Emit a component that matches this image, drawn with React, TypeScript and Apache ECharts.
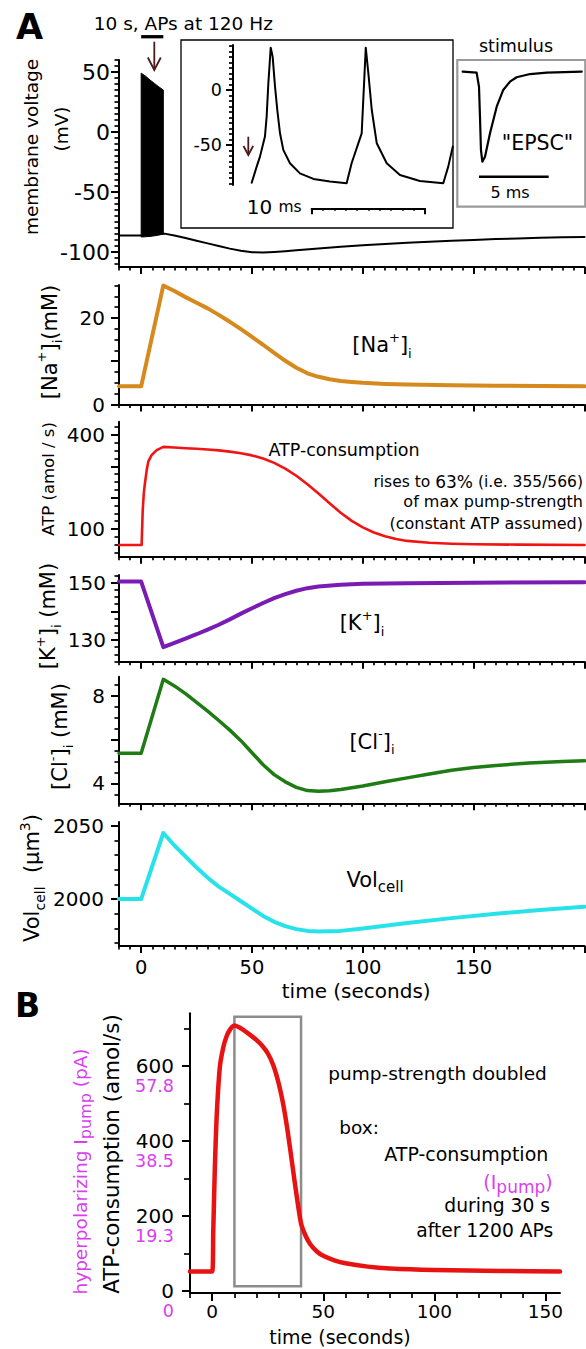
import React, { useEffect, useRef } from 'react';
import * as echarts from 'echarts';

const FONT = "'DejaVu Sans', 'Liberation Sans', Arial, sans-serif";
const MAGENTA = '#d93fef';

// ---------- Panel A: shared time axis (s) ----------
const timeTickLabels = [0, 50, 100, 150];

// membrane voltage (mV)
const vmTime = [-10, 0, 10.5, 15, 20, 25, 30, 35, 40, 45, 50, 55, 60, 65, 70, 80, 90, 100, 110, 120, 130, 140, 150, 160, 170, 180, 190, 200];
const vmValue = [-86.3, -86.3, -84.7, -86.3, -88.4, -90.6, -92.8, -95, -97.2, -99, -100.2, -100.5, -100, -99.3, -98.5, -97, -95.6, -94.4, -93.3, -92.3, -91.4, -90.6, -89.9, -89.2, -88.7, -88.2, -87.8, -87.4];
// AP burst envelope (10 s at 120 Hz)
const burstTime = [0, 2, 4, 6, 8, 10];
const burstTop = [49, 46.5, 43.3, 40.5, 37.6, 35];
const burstBottom = [-87.5, -87.3, -87, -86.5, -85.8, -85];
const stimWindow = [0, 10];
const vmTickLabels = [-100, -50, 0, 50];

// [Na+]i (mM)
const naTime = [-10, 0, 10, 15, 20, 25, 30, 35, 40, 45, 50, 55, 60, 65, 70, 75, 80, 85, 90, 95, 100, 110, 120, 140, 160, 180, 200];
const naValue = [4.2, 4.2, 27.5, 26.2, 24.8, 23.5, 22.2, 20.7, 19.1, 17.4, 15.6, 13.8, 11.9, 10.1, 8.5, 7.2, 6.4, 5.85, 5.45, 5.2, 5.0, 4.75, 4.6, 4.45, 4.35, 4.25, 4.2];
const naTickLabels = [0, 20];

// ATP consumption (amol/s)
const atpTime = [-10, 0.2, 0.7, 1.2, 1.7, 2.5, 3.2, 4.7, 7, 10, 15, 20, 25, 30, 35, 40, 45, 50, 55, 60, 65, 70, 75, 80, 85, 90, 95, 100, 105, 110, 115, 120, 130, 140, 150, 170, 200];
const atpValue = [49, 49, 160, 215, 246, 288, 315, 336, 352, 362, 360, 358, 356, 354, 351, 347, 342, 335, 325, 311, 293, 270, 243, 213, 182, 152, 126, 105, 89, 77, 68, 62, 56, 53, 51.5, 50, 49];
const atpTickLabels = [100, 400];

// [K+]i (mM)
const kTime = [-10, 0, 10, 15, 20, 25, 30, 35, 40, 45, 50, 55, 60, 65, 70, 75, 80, 90, 100, 120, 150, 200];
const kValue = [150.4, 150.4, 127.5, 129, 130.5, 132, 133.6, 135.3, 137.2, 139.2, 141.1, 142.9, 144.6, 146, 147.2, 148.1, 148.7, 149.3, 149.6, 149.8, 150, 150.2];
const kTickLabels = [130, 150];

// [Cl-]i (mM)
const clTime = [-10, 0, 10, 15, 20, 25, 30, 35, 40, 45, 50, 55, 60, 65, 70, 75, 80, 85, 90, 100, 110, 120, 130, 140, 150, 160, 175, 190, 200];
const clValue = [5.37, 5.37, 8.75, 8.45, 8.1, 7.7, 7.3, 6.87, 6.43, 5.95, 5.4, 4.85, 4.4, 4.07, 3.82, 3.67, 3.64, 3.66, 3.72, 3.88, 4.07, 4.25, 4.43, 4.6, 4.72, 4.82, 4.93, 5.0, 5.03];
const clTickLabels = [4, 8];

// Vol cell (um^3)
const volTime = [-10, 0, 10, 15, 20, 25, 30, 35, 40, 45, 50, 55, 60, 65, 70, 75, 80, 90, 100, 110, 120, 140, 160, 180, 200];
const volValue = [2000, 2000, 2045, 2036.5, 2029, 2021.5, 2014.5, 2008.5, 2003.5, 1998.5, 1993.5, 1988.5, 1984.5, 1981.5, 1979.5, 1978.3, 1977.8, 1978.3, 1980, 1981.8, 1983.6, 1987, 1990, 1992.6, 1994.8];
const volTickLabels = [2000, 2050];

// inset: two APs (ms, mV)
const apTime = [1.65, 2.09, 2.38, 2.82, 2.97, 3.12, 3.33, 3.5, 3.71, 3.91, 4.15, 4.44, 5.03, 5.91, 7.1, 8.56, 10.03, 10.47, 11.06, 11.36, 11.5, 11.72, 11.95, 12.25, 12.69, 13.57, 14.74, 16.5, 18.56, 19.0, 19.4];
const apValue = [-84.3, -69.7, -60.6, -42.4, -24.2, 6, 38.5, 30.3, 3, -18.2, -39.4, -54.5, -66.6, -75.8, -80.9, -83.3, -84.8, -66.6, -48.5, -39.4, -9, 38.5, 15, -18.2, -48.5, -66.6, -77.3, -82.7, -84.8, -69.7, -51.5];
const apTickLabels = [-50, 0];
const apScaleBarMs = 10;

// stimulus "EPSC" (ms, normalized current)
const epscTime = [0, 1.0, 1.17, 1.24, 1.31, 1.41, 1.6, 1.96, 2.44, 2.91, 3.39, 3.87, 4.83, 6.03, 8.54];
const epscValue = [0, -0.011, -0.167, -0.5, -0.87, -1, -0.944, -0.684, -0.389, -0.203, -0.111, -0.062, -0.026, -0.011, 0];
const epscScaleBar = [1.17, 6.17];
const epscScaleBarLevel = -1.167;

// ---------- Panel B ----------
const bTime = [-10, 0, 0.45, 1.2, 2, 3.45, 5, 6.4, 8, 10, 12.5, 15.2, 17.5, 20, 22.5, 25, 27.5, 30, 32, 34, 36, 38, 40, 42, 44, 47, 50, 55, 60, 70, 80, 100, 130, 156.6];
const bValue = [52, 52, 154, 331, 465, 598, 650, 678, 697, 708, 702, 691, 681, 669, 654, 634, 602, 552, 497, 425, 340, 255, 180, 148, 126, 106, 94, 82, 74, 65, 60, 56, 53.5, 52];
const bTickLabels = [0, 200, 400, 600];
const bPumpLabels = ['0', '19.3', '38.5', '57.8'];
const boxWindow = [10, 40];
const boxRange = [13, 731];

const zip = (t: number[], v: number[]) => t.map((x, i) => [x, v[i]]);
const steps = (a: number, b: number, s: number) => {
  const out: number[] = [];
  for (let v = a; v <= b + 1e-9; v += s) out.push(Math.round(v * 1000) / 1000);
  return out;
};

function makeAxes(o: any): any[] {
  const base = {
    type: 'value', gridIndex: o.grid, min: o.min, max: o.max, position: o.pos,
    splitLine: { show: false }, splitArea: { show: false },
    minorTick: { show: false }, minorSplitLine: { show: false },
    silent: true, axisPointer: { show: false }, z: 3,
  };
  const label: any = o.labels
    ? {
        show: true, customValues: o.labels, fontSize: o.fontSize ?? 20, fontFamily: FONT, color: o.color ?? '#000',
        margin: o.margin ?? 12, formatter: o.formatter ?? ((v: number) => String(v)),
      }
    : { show: false };
  if (o.labelVAlign) label.verticalAlign = o.labelVAlign;
  if (o.labelLineHeight) label.lineHeight = o.labelLineHeight;
  const main = {
    ...base,
    axisLine: { show: o.showLine !== false, onZero: false, lineStyle: { color: '#000', width: o.lineWidth ?? 2 } },
    axisTick: o.major
      ? { show: true, customValues: o.major, length: o.majorLen ?? 8, inside: false, lineStyle: { color: '#000', width: 2 } }
      : { show: false },
    axisLabel: label,
  };
  const out = [main];
  if (o.minor) {
    out.push({
      ...base,
      axisLine: { show: false, onZero: false },
      axisTick: { show: true, customValues: o.minor, length: o.minorLen ?? 4.5, inside: false, lineStyle: { color: '#000', width: 1.7 } },
      axisLabel: { show: false },
    });
  }
  return out;
}

function rich(size: number, small: number, fill = '#000') {
  const lh = Math.round(size * 1.4);
  return {
    m: { fontSize: size, fontFamily: FONT, fill, lineHeight: lh, verticalAlign: 'middle' },
    sup: { fontSize: small, fontFamily: FONT, fill, lineHeight: small, verticalAlign: 'top' },
    sub: { fontSize: small, fontFamily: FONT, fill, lineHeight: small, verticalAlign: 'bottom' },
  };
}

function T(x: number, y: number, text: string, size: number, o: any = {}) {
  const style: any = {
    text, fontSize: size, fontFamily: FONT, fontWeight: o.weight ?? 'normal',
    fill: o.fill ?? '#000', align: o.align ?? 'center', verticalAlign: 'middle',
  };
  if (o.rich) style.rich = o.rich;
  return { type: 'text', x, y, rotation: o.rot ?? 0, silent: true, z: 10, style };
}

function buildOption() {
  const grids = [
    { left: 119, top: 60, width: 465.5, height: 207 }, // 0 voltage
    { left: 119, top: 285, width: 465.5, height: 119.5 }, // 1 Na
    { left: 119, top: 421.7, width: 465.5, height: 135 }, // 2 ATP
    { left: 119, top: 575, width: 465.5, height: 86.7 }, // 3 K
    { left: 119, top: 676.7, width: 465.5, height: 126.6 }, // 4 Cl
    { left: 119, top: 822, width: 465.5, height: 124 }, // 5 Vol
    { left: 233, top: 45, width: 220, height: 140 }, // 6 AP inset
    { left: 311.7, top: 207.3, width: (220 / 19.42) * apScaleBarMs, height: 1 }, // 7 scale bar
    { left: 462.7, top: 67.2, width: 119, height: 112.5 }, // 8 stimulus
    { left: 190, top: 1013.3, width: 370, height: 279.7 }, // 9 B
  ].map((g) => ({ ...g, show: false, containLabel: false, outerBoundsMode: 'none' }));

  const xAxis: any[] = [];
  const yAxis: any[] = [];
  const xMain: number[] = [];
  const yMain: number[] = [];
  const addX = (g: number, o: any) => { xMain[g] = xAxis.length; xAxis.push(...makeAxes({ grid: g, pos: 'bottom', ...o })); };
  const addY = (g: number, o: any) => { yMain[g] = yAxis.length; yAxis.push(...makeAxes({ grid: g, pos: 'left', ...o })); };

  const minorT = steps(-10, 200, 5);
  for (let g = 0; g <= 5; g++) {
    addX(g, {
      min: -10, max: 200, major: [0, 50, 100, 150, 200], majorLen: 7, minor: minorT, minorLen: 3.5,
      labels: g === 5 ? timeTickLabels : undefined, fontSize: 19.5, margin: 11,
    });
  }
  addY(0, { min: -112.5, max: 60, major: [-100, -50, 0, 50], minor: steps(-110, 60, 5), labels: vmTickLabels, fontSize: 22, margin: 9 });
  addY(1, { min: 0, max: 27.6, major: [0, 10, 20], minor: steps(0, 27.5, 2.5), labels: naTickLabels, margin: 14 });
  addY(2, { min: 11.6, max: 442.5, major: [100, 200, 300, 400], minor: steps(25, 425, 25), labels: atpTickLabels, margin: 14 });
  addY(3, { min: 122.4, max: 152.7, major: [130, 140, 150], minor: steps(122.5, 152.5, 2.5), labels: kTickLabels, margin: 13 });
  addY(4, { min: 3.09, max: 8.87, major: [4, 6, 8], minor: steps(3.5, 8.5, 0.5), labels: clTickLabels, margin: 14 });
  addY(5, { min: 1968, max: 2052.5, major: [2000, 2050], minor: steps(1970, 2050, 10), labels: volTickLabels, margin: 15 });
  // AP inset
  addX(6, { min: 0, max: 19.42, showLine: false });
  addY(6, { min: -86.4, max: 40.9, major: [-50, 0], majorLen: 7, minor: steps(-85, 40, 5), minorLen: 4, labels: apTickLabels, fontSize: 17.5, margin: 11, lineWidth: 2 });
  // 10 ms scale bar
  addX(7, { min: 0, max: apScaleBarMs, major: [0, apScaleBarMs], majorLen: 6, minor: steps(1, 9, 1), minorLen: 2.5, lineWidth: 2.2 });
  addY(7, { min: 0, max: 1, showLine: false });
  // stimulus inset
  addX(8, { min: 0, max: 8.54, showLine: false });
  addY(8, { min: -1.2, max: 0.05, showLine: false });
  // B
  addX(9, { min: -10, max: 156.6, major: [0, 50, 100, 150], majorLen: 8, minor: steps(-10, 150, 10), minorLen: 5, labels: timeTickLabels, fontSize: 18.5, margin: 9 });
  addY(9, { min: -5.3, max: 740.5, major: bTickLabels, majorLen: 8, minor: [100, 300, 500, 700], minorLen: 6, labels: bTickLabels, fontSize: 20, margin: 16 });
  yAxis.push(...makeAxes({
    grid: 9, pos: 'left', min: -5.3, max: 740.5, showLine: false, labels: bTickLabels, fontSize: 17.5, margin: 16,
    color: MAGENTA, labelVAlign: 'top', labelLineHeight: 40,
    formatter: (v: number) => bPumpLabels[bTickLabels.indexOf(v)] ?? '',
  }));

  const line = (g: number, data: number[][], color: string, width: number, extra: any = {}) => ({
    type: 'line', xAxisIndex: xMain[g], yAxisIndex: yMain[g], data, symbol: 'none', silent: true,
    lineStyle: { color, width, cap: 'round', join: 'round' }, itemStyle: { color }, z: 4, ...extra,
  });

  const burstSeries = {
    type: 'custom', xAxisIndex: xMain[0], yAxisIndex: yMain[0], silent: true, z: 5,
    data: burstTime.map((t, i) => [t, burstTop[i], burstBottom[i]]),
    encode: { x: 0, y: [1, 2] },
    renderItem: (params: any, api: any) => {
      if (params.dataIndex !== 0) return null;
      const top = burstTime.map((t, i) => api.coord([t, burstTop[i]]));
      const bottom = burstTime.map((t, i) => api.coord([t, burstBottom[i]])).reverse();
      return { type: 'polygon', shape: { points: [...top, ...bottom] }, style: { fill: '#000', stroke: '#000', lineWidth: 1 } };
    },
  };

  const series: any[] = [
    line(0, zip(vmTime, vmValue), '#000', 2),
    burstSeries,
    line(0, stimWindow.map((t) => [t, 79.4]), '#000', 3.3, { clip: false, lineStyle: { color: '#000', width: 3.3, cap: 'butt' } }),
    line(1, zip(naTime, naValue), '#d6891c', 4),
    line(2, zip(atpTime, atpValue), '#f01414', 2.6),
    line(3, zip(kTime, kValue), '#7a1cb4', 4),
    line(4, zip(clTime, clValue), '#1f7c14', 3.5),
    line(5, zip(volTime, volValue), '#28e2ea', 4),
    line(6, zip(apTime, apValue), '#000', 2),
    line(8, zip(epscTime, epscValue), '#000', 2.2),
    line(8, epscScaleBar.map((t) => [t, epscScaleBarLevel]), '#000', 2.5, { lineStyle: { color: '#000', width: 2.5, cap: 'butt' } }),
    line(9, zip(bTime, bValue), '#e81212', 4.5, {
      smooth: 0.2,
      markArea: {
        silent: true,
        itemStyle: { color: 'rgba(0,0,0,0)', borderColor: '#8c8c8c', borderWidth: 2.5 },
        data: [[{ coord: [boxWindow[0], boxRange[0]] }, { coord: [boxWindow[1], boxRange[1]] }]],
      },
    }),
  ];

  const R = Math.PI / 2;
  const r21 = rich(21, 13);
  const arrowColor = '#4a1c1c';
  const graphic: any[] = [
    T(16, 27, 'A', 35, { weight: 'bold', align: 'left' }),
    T(183.3, 23.3, '10 s, APs at 120 Hz', 18.5),
    T(516, 46, 'stimulus', 17.5),
    T(537.5, 143.3, '"EPSC"', 20.5),
    T(510, 192.7, '5 ms', 16),
    T(246.7, 207.3, '{a|10} {b|ms}', 20, {
      align: 'left',
      rich: { a: { fontSize: 20, fontFamily: FONT, fill: '#000', lineHeight: 22 }, b: { fontSize: 15.5, fontFamily: FONT, fill: '#000', lineHeight: 22 } },
    }),
    // y titles
    T(31.7, 147, 'membrane voltage', 18.5, { rot: R }),
    T(61.7, 129, '(mV)', 18.5, { rot: R }),
    T(49.5, 342, '{m|[Na}{sup|+}{m|]}{sub|i}{m|(mM)}', 21, { rot: R, rich: r21 }),
    T(48.7, 479, 'ATP (amol / s)', 16.5, { rot: R }),
    T(48, 616, '{m|[K}{sup|+}{m|]}{sub|i}{m| (mM)}', 21, { rot: R, rich: r21 }),
    T(60, 736.5, '{m|[Cl}{sup|-}{m|]}{sub|i}{m| (mM)}', 21, { rot: R, rich: r21 }),
    T(32, 878, '{m|Vol}{sub|cell}{m|  (\u00b5m}{sup|3}{m|)}', 21, { rot: R, rich: rich(21, 14) }),
    // in-plot labels
    T(382, 345, '{m|[Na}{sup|+}{m|]}{sub|i}', 21, { rich: r21 }),
    T(344, 450, 'ATP-consumption', 17.5),
    T(583, 481.7, '{a|rises to }{b|63%}{a| (i.e. 355/566)}', 15.5, {
      align: 'right',
      rich: { a: { fontSize: 15.5, fontFamily: FONT, fill: '#000', lineHeight: 20 }, b: { fontSize: 17, fontFamily: FONT, fill: '#000', lineHeight: 20 } },
    }),
    T(583, 501.7, 'of max pump-strength', 16, { align: 'right' }),
    T(583, 523.3, '(constant ATP assumed)', 16, { align: 'right' }),
    T(362, 623, '{m|[K}{sup|+}{m|]}{sub|i}', 21, { rich: r21 }),
    T(372, 741.7, '{m|[Cl}{sup|-}{m|]}{sub|i}', 21, { rich: r21 }),
    T(375, 880, '{m|Vol}{sub|cell}', 21, { rich: rich(21, 15) }),
    T(356.2, 991, 'time (seconds)', 20),
    // Panel B
    T(15, 1005.5, 'B', 33, { weight: 'bold', align: 'left' }),
    T(328.3, 1073.3, 'pump-strength doubled', 18.5, { align: 'left' }),
    T(339.3, 1127.7, 'box:', 18.5, { align: 'left' }),
    T(548.3, 1154, 'ATP-consumption', 19, { align: 'right' }),
    T(552.7, 1181.7, '{m|(I}{sub|pump}{m|)}', 19, { align: 'right', rich: rich(19, 17, MAGENTA) }),
    T(550, 1205, 'during 30 s', 18.7, { align: 'right' }),
    T(553.3, 1230, 'after 1200 APs', 18.7, { align: 'right' }),
    T(340, 1336.5, 'time (seconds)', 19),
    T(111, 1154, 'ATP-consumption (amol/s)', 21.4, { rot: R }),
    T(80, 1171.5, '{m|hyperpolarizing I}{sub|pump}{m| (pA)}', 18.5, { rot: R, rich: rich(18.5, 16, MAGENTA) }),
    // inset frames
    { type: 'rect', silent: true, z: 1, shape: { x: 181, y: 40, width: 272, height: 188 }, style: { fill: 'rgba(0,0,0,0)', stroke: '#000', lineWidth: 1.3 } },
    { type: 'rect', silent: true, z: 1, shape: { x: 457.3, y: 60, width: 128, height: 146.7 }, style: { fill: 'rgba(0,0,0,0)', stroke: '#9a9a9a', lineWidth: 2.2 } },
    // arrows
    { type: 'line', silent: true, z: 10, shape: { x1: 154.3, y1: 41.7, x2: 154.3, y2: 69.5 }, style: { stroke: arrowColor, lineWidth: 1.8 } },
    { type: 'polyline', silent: true, z: 10, shape: { points: [[147.8, 57.5], [154.3, 70], [160.8, 57.5]] }, style: { stroke: arrowColor, lineWidth: 1.8, fill: 'none' } },
    { type: 'line', silent: true, z: 10, shape: { x1: 248.3, y1: 136.7, x2: 248.3, y2: 154.5 }, style: { stroke: arrowColor, lineWidth: 1.8 } },
    { type: 'polyline', silent: true, z: 10, shape: { points: [[243.5, 146], [248.3, 155], [253.1, 146]] }, style: { stroke: arrowColor, lineWidth: 1.8, fill: 'none' } },
  ];

  return {
    animation: false,
    backgroundColor: '#fff',
    textStyle: { fontFamily: FONT },
    grid: grids,
    xAxis,
    yAxis,
    series,
    graphic,
  };
}

export default function App() {
  const ref = useRef<HTMLDivElement>(null);
  useEffect(() => {
    if (!ref.current) return;
    const chart = echarts.init(ref.current, undefined, { renderer: 'svg' });
    chart.setOption(buildOption() as any);
    return () => chart.dispose();
  }, []);
  return <div ref={ref} style={{ position: 'absolute', left: 0, top: 0, width: 586, height: 1349, background: '#fff' }} />;
}
